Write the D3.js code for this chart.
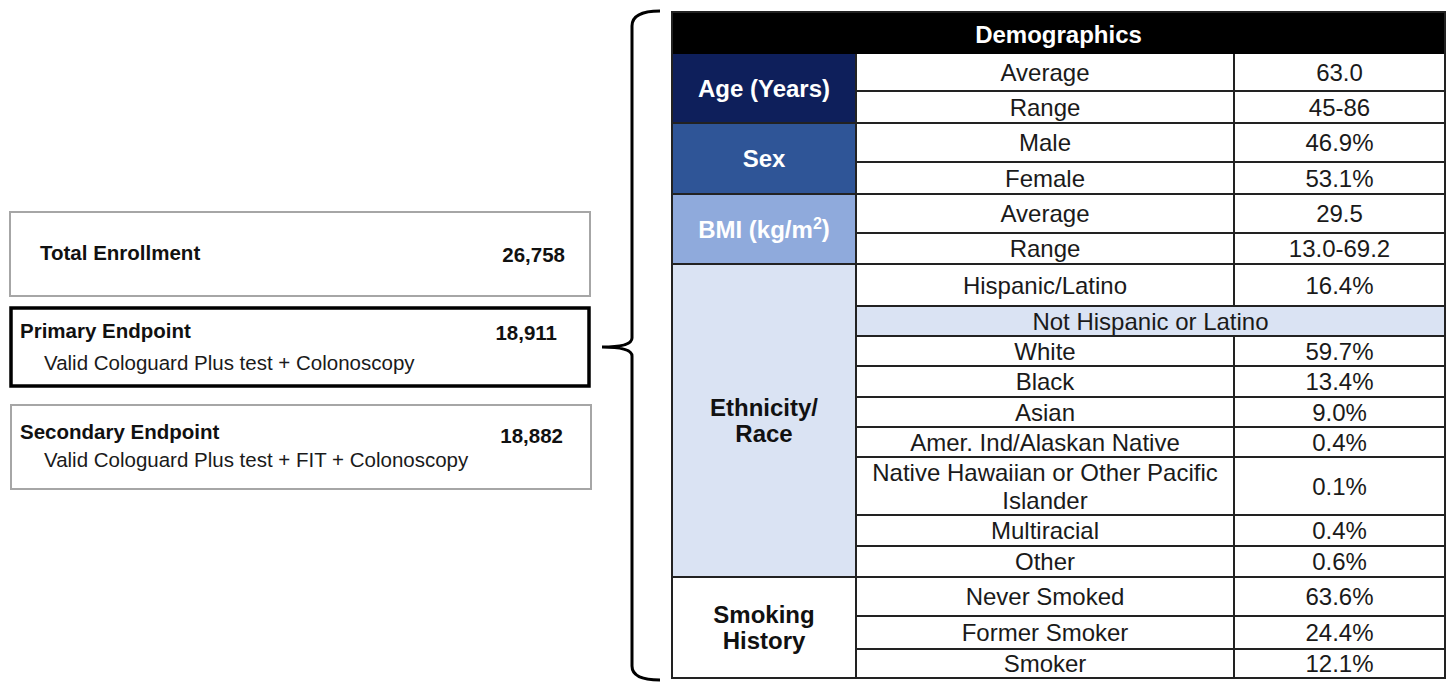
<!DOCTYPE html>
<html>
<head>
<meta charset="utf-8">
<script src="https://cdn.jsdelivr.net/npm/d3@7"></script>
<style>
  body { margin: 0; background: #fff; }
  text { font-family: 'Liberation Sans', Arial, sans-serif; }
</style>
</head>
<body>
<svg id="chart" width="1449" height="682"></svg>
<script>
// left side: enrollment funnel
const boxTitles = ['Total Enrollment', 'Primary Endpoint', 'Secondary Endpoint'];
const boxCounts = [26758, 18911, 18882];
const boxNotes = ['', 'Valid Cologuard Plus test + Colonoscopy', 'Valid Cologuard Plus test + FIT + Colonoscopy'];

// right side: demographics table
const groups = ['Age (Years)', 'Sex', 'BMI (kg/m2)', 'Ethnicity/|Race', 'Smoking|History'];
const rowLabels = [
  'Average', 'Range', 'Male', 'Female', 'Average', 'Range',
  'Hispanic/Latino', 'Not Hispanic or Latino', 'White', 'Black', 'Asian',
  'Amer. Ind/Alaskan Native', 'Native Hawaiian or Other Pacific|Islander',
  'Multiracial', 'Other', 'Never Smoked', 'Former Smoker', 'Smoker',
];
const rowValues = [
  '63.0', '45-86', '46.9%', '53.1%', '29.5', '13.0-69.2',
  '16.4%', '', '59.7%', '13.4%', '9.0%', '0.4%', '0.1%', '0.4%', '0.6%',
  '63.6%', '24.4%', '12.1%',
];
const rowGroup = [0, 0, 1, 1, 2, 2, 3, 3, 3, 3, 3, 3, 3, 3, 3, 4, 4, 4];
const spanRows = ['Not Hispanic or Latino'];

// layout
const rowHeights = [37, 32, 39, 32, 39, 31, 42, 30, 30, 31, 30, 30, 58, 31, 31, 39, 33, 29];
const groupFill = ['#0e1f5b', '#2f5597', '#8faadc', '#dae3f3', '#ffffff'];
const groupText = ['#ffffff', '#ffffff', '#ffffff', '#111111', '#111111'];
const tableTop = 12;
const headerH = 42;
const colEdges = [672, 856, 1234, 1445];
const lineColor = '#222';
const bodySize = 24;
const boldSize = 24;

const svg = d3.select('#chart');
const fmt = d3.format(',');

// ---- funnel boxes ----
const boxes = [
  { x: 10, y: 212, w: 580, h: 84, stroke: '#a6a6a6', sw: 2, tx: 40, ty: 260, cx: 565, cy: 262 },
  { x: 11, y: 308, w: 578, h: 78, stroke: '#000000', sw: 3.5, tx: 20, ty: 338, cx: 557, cy: 340, nx: 44, ny: 370 },
  { x: 11, y: 405, w: 580, h: 84, stroke: '#a6a6a6', sw: 2, tx: 20, ty: 439, cx: 563, cy: 443, nx: 44, ny: 467 },
];

const boxG = svg.append('g')
  .selectAll('g')
  .data(boxTitles.map((title, i) => ({
    title, count: boxCounts[i], note: boxNotes[i], ...boxes[i],
  })))
  .join('g');

boxG.append('rect')
  .attr('x', (d) => d.x)
  .attr('y', (d) => d.y)
  .attr('width', (d) => d.w)
  .attr('height', (d) => d.h)
  .attr('fill', '#fff')
  .attr('stroke', (d) => d.stroke)
  .attr('stroke-width', (d) => d.sw);

boxG.append('text')
  .attr('x', (d) => d.tx)
  .attr('y', (d) => d.ty)
  .attr('font-size', 20.5)
  .attr('font-weight', 'bold')
  .attr('fill', '#111')
  .text((d) => d.title);

boxG.append('text')
  .attr('x', (d) => d.cx)
  .attr('y', (d) => d.cy)
  .attr('text-anchor', 'end')
  .attr('font-size', 20.5)
  .attr('font-weight', 'bold')
  .attr('fill', '#111')
  .text((d) => fmt(d.count));

boxG.filter((d) => d.note)
  .append('text')
  .attr('x', (d) => d.nx)
  .attr('y', (d) => d.ny)
  .attr('font-size', 20.5)
  .attr('fill', '#1a1a1a')
  .text((d) => d.note);

// ---- curly bracket ----
svg.append('path')
  .attr('d', 'M660,11 Q632,11 632,26 L632,338 Q632,347 602,347 Q632,347 632,356 L632,666 Q632,680 660,680')
  .attr('fill', 'none')
  .attr('stroke', '#000')
  .attr('stroke-width', 3);

// ---- table ----
const rowTops = [0, ...d3.cumsum(rowHeights)].map((v) => v + tableTop + headerH);
const y = (i) => rowTops[i];
const tableBottom = rowTops[rowTops.length - 1];

const x = d3.scaleOrdinal()
  .domain([0, 1, 2, 3])
  .range(colEdges);

const rows = rowLabels.map((label, i) => ({
  label, value: rowValues[i], group: rowGroup[i], i,
  span: spanRows.includes(label),
}));

const groupSpans = groups.map((name, g) => {
  const idx = rows.filter((r) => r.group === g).map((r) => r.i);
  return { name, g, y0: y(d3.min(idx)), y1: y(d3.max(idx) + 1) };
});

// header
svg.append('rect')
  .attr('x', x(0))
  .attr('y', tableTop)
  .attr('width', x(3) - x(0))
  .attr('height', headerH)
  .attr('fill', '#000');

svg.append('text')
  .attr('x', (x(0) + x(3)) / 2)
  .attr('y', tableTop + headerH / 2 + 1)
  .attr('dy', '0.36em')
  .attr('text-anchor', 'middle')
  .attr('font-size', boldSize)
  .attr('font-weight', 'bold')
  .attr('fill', '#fff')
  .text('Demographics');

// group cells
const gCells = svg.append('g')
  .selectAll('g')
  .data(groupSpans)
  .join('g');

gCells.append('rect')
  .attr('x', x(0))
  .attr('y', (d) => d.y0)
  .attr('width', x(1) - x(0))
  .attr('height', (d) => d.y1 - d.y0)
  .attr('fill', (d) => groupFill[d.g]);

gCells.each(function (d) {
  const lines = d.name.split('|');
  const lh = 26;
  const cy = (d.y0 + d.y1) / 2;
  const t = d3.select(this).append('text')
    .attr('text-anchor', 'middle')
    .attr('font-size', boldSize)
    .attr('font-weight', 'bold')
    .attr('fill', groupText[d.g]);
  lines.forEach((line, k) => {
    const ty = cy + (k - (lines.length - 1) / 2) * lh;
    if (line.includes('m2')) {
      t.append('tspan')
        .attr('x', (x(0) + x(1)) / 2)
        .attr('y', ty)
        .attr('dy', '0.36em')
        .text(line.replace('m2)', 'm'));
      t.append('tspan')
        .attr('font-size', 16)
        .attr('dy', '-0.55em')
        .text('2');
      t.append('tspan')
        .attr('dy', '0.35em')
        .text(')');
    } else {
      t.append('tspan')
        .attr('x', (x(0) + x(1)) / 2)
        .attr('y', ty)
        .attr('dy', '0.36em')
        .text(line);
    }
  });
});

// data rows
const rCells = svg.append('g')
  .selectAll('g')
  .data(rows)
  .join('g');

rCells.filter((d) => d.span)
  .append('rect')
  .attr('x', x(1))
  .attr('y', (d) => y(d.i))
  .attr('width', x(3) - x(1))
  .attr('height', (d) => rowHeights[d.i])
  .attr('fill', '#dae3f3');

rCells.each(function (d) {
  const lines = d.label.split('|');
  const lh = 28;
  const cy = y(d.i) + rowHeights[d.i] / 2;
  const cx = d.span ? (x(1) + x(3)) / 2 : (x(1) + x(2)) / 2;
  const t = d3.select(this).append('text')
    .attr('text-anchor', 'middle')
    .attr('font-size', bodySize)
    .attr('fill', '#1a1a1a');
  lines.forEach((line, k) => {
    t.append('tspan')
      .attr('x', cx)
      .attr('y', cy + (k - (lines.length - 1) / 2) * lh)
      .attr('dy', '0.36em')
      .text(line);
  });
});

rCells.filter((d) => d.value)
  .append('text')
  .attr('x', (x(2) + x(3)) / 2)
  .attr('y', (d) => y(d.i) + rowHeights[d.i] / 2)
  .attr('dy', '0.36em')
  .attr('text-anchor', 'middle')
  .attr('font-size', bodySize)
  .attr('fill', '#1a1a1a')
  .text((d) => d.value);

// grid lines
const grid = svg.append('g')
  .attr('stroke', lineColor)
  .attr('stroke-width', 2);

grid.selectAll('.hrow')
  .data(rows.slice(1).filter((d) => rowGroup[d.i - 1] === d.group))
  .join('line')
  .attr('x1', x(1))
  .attr('x2', x(3))
  .attr('y1', (d) => y(d.i))
  .attr('y2', (d) => y(d.i));

grid.selectAll('.hgroup')
  .data(groupSpans.slice(1))
  .join('line')
  .attr('x1', x(0))
  .attr('x2', x(3))
  .attr('y1', (d) => d.y0)
  .attr('y2', (d) => d.y0);

grid.append('line')
  .attr('x1', x(1)).attr('x2', x(1))
  .attr('y1', tableTop + headerH).attr('y2', tableBottom);

rows.filter((d) => !d.span).forEach((d) => {
  grid.append('line')
    .attr('x1', x(2)).attr('x2', x(2))
    .attr('y1', y(d.i)).attr('y2', y(d.i + 1));
});

svg.append('rect')
  .attr('x', x(0))
  .attr('y', tableTop)
  .attr('width', x(3) - x(0))
  .attr('height', tableBottom - tableTop)
  .attr('fill', 'none')
  .attr('stroke', lineColor)
  .attr('stroke-width', 2);
</script>
</body>
</html>
